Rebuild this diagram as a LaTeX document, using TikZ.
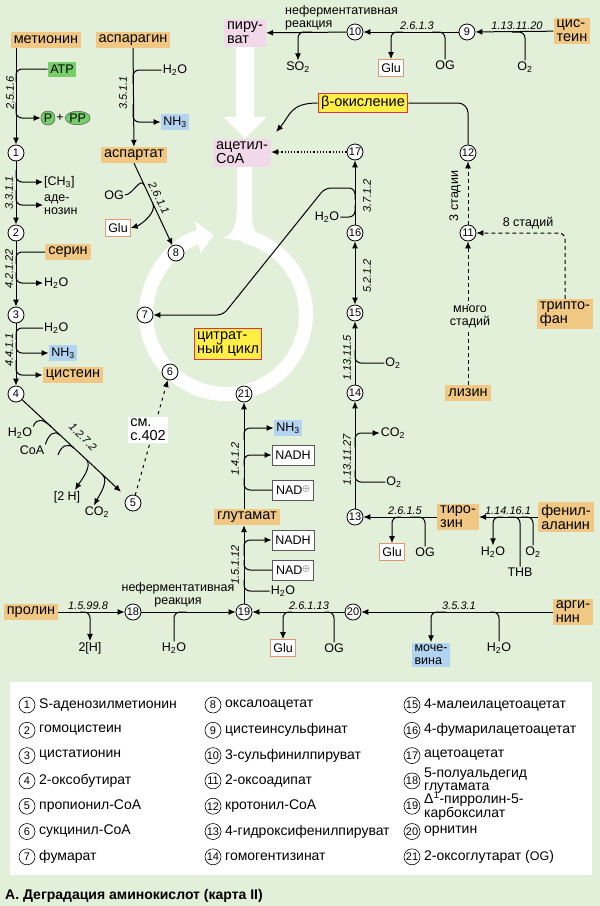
\documentclass[tikz,border=0pt]{standalone}
\usepackage{fontspec}
\setmainfont{Liberation Sans}
\usepackage{tikz}
\usetikzlibrary{arrows.meta,positioning,calc,shapes.geometric}
\definecolor{bgGreen}{RGB}{226,239,217}
\definecolor{aaTan}{RGB}{240,200,132}
\definecolor{pinkBox}{RGB}{241,217,233}
\definecolor{blueBox}{RGB}{178,212,240}
\definecolor{greenBox}{RGB}{118,206,104}
\definecolor{yelBox}{RGB}{255,238,70}
\definecolor{redEdge}{RGB}{222,50,70}
\definecolor{gluEdge}{RGB}{226,150,120}
\newcommand\labfont{\fontsize{14.5}{14}\selectfont}
\newcommand\chemfont{\fontsize{12.5}{13}\selectfont}
\newcommand\ecfont{\fontsize{11}{12}\selectfont\itshape}
\newcommand\numfont{\fontsize{11}{12}\selectfont}
\newcommand\legfont{\fontsize{14}{13}\selectfont}
\newcommand\water{H\textsubscript{2}O}
\newcommand\oxy{O\textsubscript{2}}
\newcommand\carbdiox{CO\textsubscript{2}}
\newcommand\ammon{NH\textsubscript{3}}
\newcommand\sulfdiox{SO\textsubscript{2}}
\newcommand\nadox{NAD\raisebox{3pt}{\scalebox{0.8}{$\oplus$}}}
\tikzset{
  aa/.style={rectangle, fill=aaTan, inner xsep=3pt, inner ysep=2.5pt, minimum height=16pt, align=left, font=\labfont},
  pinkbox/.style={rectangle, fill=pinkBox, inner sep=3pt, align=left, font=\labfont},
  bluebox/.style={rectangle, fill=blueBox, inner sep=2.5pt, minimum height=16pt, align=left, font=\chemfont},
  greenbox/.style={rectangle, fill=greenBox, inner sep=2.5pt, minimum height=15pt, font=\chemfont},
  glubox/.style={rectangle, draw=gluEdge, fill=white, line width=0.8pt, inner sep=2.5pt, minimum height=17pt, font=\chemfont},
  nadbox/.style={rectangle, draw=black!65, fill=white, line width=0.7pt, minimum width=40pt, minimum height=20pt, font=\chemfont},
  yelbox/.style={rectangle, draw=redEdge, fill=yelBox, line width=1pt, inner sep=3pt, align=left, font=\labfont},
  seebox/.style={rectangle, fill=white, inner sep=2.5pt, align=left, font=\labfont},
  num/.style={circle, draw, fill=white, line width=0.8pt, inner sep=0pt, minimum size=16pt, font=\numfont},
  chem/.style={inner sep=1pt, font=\chemfont},
  ec/.style={inner sep=1pt, font=\ecfont},
  legtext/.style={inner sep=1pt, anchor=west, align=left, font=\legfont},
  rxn/.style={-{Latex[length=7pt, width=6pt]}, line width=1pt},
  rxnboth/.style={{Latex[length=7pt, width=6pt]}-{Latex[length=7pt, width=6pt]}, line width=1pt},
  feed/.style={line width=1pt, rounded corners=6pt},
  yield/.style={feed, -{Latex[length=7pt, width=6pt]}},
  stagearr/.style={dashed, dash pattern=on 4pt off 3pt, line width=1pt, rounded corners=6pt, -{Latex[length=7pt, width=6pt]}},
  dotarr/.style={dotted, line width=1.2pt, -{Latex[length=7pt, width=6pt]}},
  flask/.style={draw=white}
}
\begin{document}
\begin{tikzpicture}[x=1pt, y=-1pt]
  \fill[bgGreen] (0,0) rectangle (600,906);
  \useasboundingbox (0,0) rectangle (600,906);
  \fill[white] (10,682) rectangle (592,875);

  % pyruvate, acetyl-CoA and the white flask
  \node[pinkbox] (pyr) at (245,33) {пиру-\\ват};
  \node[pinkbox] (acoa) at (242,153) {ацетил-\\CoA};
  \coordinate (neck) at (244,236);
  \draw[flask, line width=18pt, -{Triangle[length=22pt, width=42pt]}] (pyr.south) -- (pyr.south |- acoa.north);
  \draw[flask, line width=15pt] (neck |- acoa.south) -- (neck);
  \fill[white] (236.5,212) .. controls (236.5,228) and (232,233) .. (224,238) -- (266,245) .. controls (258,237) and (251.5,230) .. (251.5,212) -- cycle;
  \draw[flask, line width=14pt, -{Triangle[length=16pt, width=32pt]}] (neck) arc[start angle=77, end angle=-261, radius=80pt];
  \node[yelbox] (citr) at (228,344) {цитрат-\\ный цикл};

  % left column
  \node[aa] (met) at (46,40) {метионин};
  \node[greenbox] (atp) at (62,69) {ATP};
  \node[greenbox, circle, draw=black!75, inner sep=0.8pt, minimum size=12pt] (pP) at (48,118) {P};
  \node[chem, right=0pt of pP] (plus) {+};
  \node[greenbox, ellipse, draw=black!75, inner sep=0.5pt, minimum height=13pt, right=0pt of plus] (pPP) {PP};
  \node[num] (c1) at (16,153) {1};
  \node[chem, anchor=west] (ch3) at (43,182) {[CH\textsubscript{3}]};
  \node[chem, anchor=west, align=left] (ado) at (43,205) {аде-\\нозин};
  \node[num] (c2) at (16,233) {2};
  \node[aa] (ser) at (68,252) {серин};
  \node[chem, anchor=west] (h2oA) at (43,283) {\water};
  \node[num] (c3) at (16,315) {3};
  \node[chem, anchor=west] (h2oB) at (43,328) {\water};
  \node[bluebox] (nh3A) at (63,353) {\ammon};
  \node[aa] (cysA) at (73,375) {цистеин};
  \node[num] (c4) at (16,394) {4};
  \node[chem] (h2oC) at (20,433) {\water};
  \node[chem] (coa) at (32,450) {CoA};
  \node[chem] (h2H) at (67,497) {[2 H]};
  \node[chem] (co2A) at (97,512) {\carbdiox};
  \node[num] (c5) at (133,503) {5};

  % aspartate and the cycle
  \node[aa] (asn) at (133,40) {аспарагин};
  \node[chem] (h2oD) at (175,70) {\water};
  \node[bluebox] (nh3B) at (175,122) {\ammon};
  \node[aa] (asp) at (134,155) {аспартат};
  \node[chem] (og1) at (114,195) {OG};
  \node[glubox] (glu1) at (118,228) {Glu};
  \node[num] (c8) at (176,253) {8};
  \node[num] (c7) at (145,315) {7};
  \node[num] (c6) at (170,372) {6};
  \node[num] (c21) at (244,394) {21};

  % top row
  \node[num] (c10) at (355,32) {10};
  \node[chem, anchor=west, align=left] (nonenzA) at (284,18) {неферментативная\\реакция};
  \node[chem] (so2) at (298,67) {\sulfdiox};
  \node[glubox] (glu2) at (391,68) {Glu};
  \node[num] (c9) at (467,32) {9};
  \node[chem] (og2) at (445,65) {OG};
  \node[chem] (o2A) at (525,67) {\oxy};
  \node[aa] (cysB) at (572,31) {цис-\\теин};
  \node[yelbox] (beta) at (363,103) {β-окисление};

  % right columns
  \node[num] (c17) at (355,152) {17};
  \node[num] (c12) at (468,153) {12};
  \node[num] (c16) at (355,233) {16};
  \node[chem] (h2oE) at (327,217) {\water};
  \node[num] (c11) at (468,233) {11};
  \node[num] (c15) at (355,313) {15};
  \node[aa] (trp) at (565,314) {трипто-\\фан};
  \node[num] (c14) at (355,393) {14};
  \node[chem] (o2B) at (393,363) {\oxy};
  \node[aa] (lys) at (468,393) {лизин};
  \node[chem] (co2B) at (393,433) {\carbdiox};
  \node[chem] (o2C) at (394,482) {\oxy};
  \node[num] (c13) at (355,517) {13};
  \node[glubox] (glu3) at (392,552) {Glu};
  \node[chem] (og3) at (425,552) {OG};
  \node[aa] (tyr) at (458,517) {тиро-\\зин};
  \node[chem] (h2oG) at (493,552) {\water};
  \node[chem] (o2D) at (533,552) {\oxy};
  \node[chem] (thb) at (520,572) {THB};
  \node[aa] (phe) at (566,517) {фенил-\\аланин};

  % glutamate column
  \node[bluebox] (nh3C) at (288,428) {\ammon};
  \node[nadbox] (nadhA) at (293,455) {NADH};
  \node[nadbox] (nadA) at (293,490) {\nadox};
  \node[aa] (glut) at (247,517) {глутамат};
  \node[nadbox] (nadhB) at (293,540) {NADH};
  \node[nadbox] (nadB) at (293,570) {\nadox};
  \node[chem] (h2oF) at (283,591) {\water};

  % bottom row
  \node[aa] (pro) at (31,612) {пролин};
  \node[num] (c18) at (133,612) {18};
  \node[chem] (h2HB) at (90,648) {2[H]};
  \node[chem, align=center] (nonenzB) at (178,595) {неферментативная\\реакция};
  \node[chem] (h2oH) at (174,648) {\water};
  \node[num] (c19) at (244,612) {19};
  \node[glubox] (glu4) at (283,648) {Glu};
  \node[chem] (og4) at (334,648) {OG};
  \node[num] (c20) at (353,612) {20};
  \node[bluebox] (urea) at (431,655) {моче-\\вина};
  \node[chem] (h2oI) at (499,648) {\water};
  \node[aa] (arg) at (573,612) {арги-\\нин};

  % enzyme numbers
  \node[ec, rotate=90] (e1) at (10,93) {2.5.1.6};
  \node[ec, rotate=90] (e2) at (123,93) {3.5.1.1};
  \node[ec, rotate=90] (e3) at (9,193) {3.3.1.1};
  \node[ec, rotate=90] (e4) at (9,269) {4.2.1.22};
  \node[ec, rotate=90] (e5) at (9,350) {4.4.1.1};
  \node[ec, rotate=-45] (e6) at (83,437) {1.2.7.2};
  \node[ec, rotate=-63] (e7) at (159,198) {2.6.1.1};
  \node[ec, anchor=south] (e8) at (88,611) {1.5.99.8};
  \node[ec, anchor=south] (e9) at (417,31) {2.6.1.3};
  \node[ec, anchor=south] (e10) at (517,31) {1.13.11.20};
  \node[ec, rotate=90] (e11) at (367,196) {3.7.1.2};
  \node[ec, rotate=90] (e12) at (367,276) {5.2.1.2};
  \node[ec, rotate=90] (e13) at (347,358) {1.13.11.5};
  \node[ec, rotate=90] (e14) at (347,460) {1.13.11.27};
  \node[ec, anchor=south] (e15) at (405,516) {2.6.1.5};
  \node[ec, anchor=south] (e16) at (508,516) {1.14.16.1};
  \node[ec, anchor=south] (e17) at (309,611) {2.6.1.13};
  \node[ec, anchor=south] (e18) at (459,611) {3.5.3.1};
  \node[ec, rotate=90] (e19) at (235,459) {1.4.1.2};
  \node[ec, rotate=90] (e20) at (235,565) {1.5.1.12};
  \node[chem, rotate=90] (st3) at (455,196) {3 стадии};
  \node[chem, anchor=south] (st8) at (528,230) {8 стадий};

  % junctions on the reaction lines
  \coordinate (jA) at (16,82);   \coordinate (jB) at (16,102);
  \coordinate (jC) at (16,170);  \coordinate (jD) at (16,190);
  \coordinate (jE) at (16,264);  \coordinate (jF) at (16,272);
  \coordinate (jG) at (16,340);  \coordinate (jH) at (16,342);
  \coordinate (jI) at (16,360);
  \coordinate (jJ) at (133,84);  \coordinate (jK) at (133,104);
  \coordinate (jL) at (512,32);  \coordinate (jM) at (432,32);
  \coordinate (jN) at (403,32);  \coordinate (jO) at (312,32);
  \coordinate (jP) at (355,205); \coordinate (jQ) at (355,200);
  \coordinate (bendA) at (325,188); \coordinate (bendB) at (223,315);
  \coordinate (jR) at (355,350); \coordinate (jS) at (355,447);
  \coordinate (jT) at (355,470);
  \coordinate (jU) at (401,517); \coordinate (jV) at (410,517);
  \coordinate (jW) at (503,517); \coordinate (jX) at (508,517);
  \coordinate (jY) at (521,517);
  \coordinate (jZa) at (244,556); \coordinate (jZb) at (244,560);
  \coordinate (jZc) at (244,580); \coordinate (jZd) at (244,478);
  \coordinate (jZe) at (244,466); \coordinate (jZf) at (244,440);
  \coordinate (jBa) at (80,612);  \coordinate (jBb) at (186,612);
  \coordinate (jBc) at (292,612); \coordinate (jBd) at (325,612);
  \coordinate (jBe) at (446,612); \coordinate (jBf) at (490,612);
  \coordinate (dA) at ($(c4)!.30!(c5)$); \coordinate (dB) at ($(c4)!.38!(c5)$);
  \coordinate (dC) at ($(c4)!.50!(c5)$); \coordinate (dD) at ($(c4)!.60!(c5)$);
  \coordinate (dE) at ($(c4)!.74!(c5)$);
  \coordinate (dF) at ($(asp.south)!.25!(c8)$); \coordinate (dG) at ($(asp.south)!.45!(c8)$);
  \coordinate (fx) at (58,455);

  % methionine to 2-oxobutyrate
  \draw[rxn] (c1 |- met.south) -- (c1);
  \draw[feed] (atp.west) -| (jA);
  \draw[yield] (jB) |- (pP.west);
  \draw[rxn] (c1) -- (c2);
  \draw[yield] (jC) |- (ch3.west);
  \draw[yield] (jD) |- (ado.west);
  \draw[rxn] (c2) -- (c3);
  \draw[feed] (ser.west) -| (jE);
  \draw[yield] (jF) |- (h2oA.west);
  \draw[rxn] (c3) -- (c4);
  \draw[feed] (h2oB.west) -| (jG);
  \draw[yield] (jH) |- (nh3A.west);
  \draw[yield] (jI) |- (cysA.west);
  \draw[rxn, shorten >=8pt] (c4) -- (c5);
  \draw[feed] (h2oC.north east) .. controls +(4,-10) and +(-7,-6.5) .. (dA);
  \draw[feed] (coa.north east) .. controls +(3,-9) and +(-7,-6.5) .. (dB);
  \draw[feed] (fx) .. controls +(3,-9) and +(-7,-6.5) .. (dC);
  \draw[yield] (dD) .. controls +(7,6.5) and +(5,-8) .. ([xshift=8pt]h2H.north);
  \draw[yield] (dE) .. controls +(7,6.5) and +(4,-8) .. ([xshift=-3pt]co2A.north);
  \draw[stagearr, dash pattern=on 3pt off 4pt] (c5) -- (c6);

  % asparagine and aspartate
  \draw[rxn] (asn) -- (asp);
  \draw[feed] (h2oD.west) -| (jJ);
  \draw[yield] (jK) |- (nh3B.west);
  \draw[rxn] (asp.south) -- (c8);
  \draw[feed] (og1.east) .. controls +(8,0) and +(-4,-10) .. (dF);
  \draw[yield] (dG) .. controls +(4,9) and +(10,-3) .. (glu1.east);

  % cysteine to pyruvate
  \draw[rxn] (cysB) -- (c9);
  \draw[feed] (o2A.north) |- (jL);
  \draw[rxn] (c9) -- (c10);
  \draw[feed] (og2.north) |- (jM);
  \draw[yield] (jN) -| (glu2.north);
  \draw[rxn] (c10) -- (pyr);
  \draw[yield] (jO) -| (so2.north);
  \draw[yield] (beta.west) .. controls +(-28,0) and +(14,-16) .. ([shift={(5,-7)}]acoa.north east);
  \draw[feed, rounded corners=10pt] (c12) |- (beta.east);
  \draw[dotarr] (c17) -- (c17 -| acoa.east);

  % tyrosine to acetoacetate
  \draw[rxn] (phe) -- (tyr);
  \draw[yield] (jW) -| (h2oG.north);
  \draw[feed] (thb.north) |- (jX);
  \draw[feed] (o2D.north) |- (jY);
  \draw[rxn] (tyr) -- (c13);
  \draw[yield] (jU) -| (glu3.north);
  \draw[feed] (og3.north) |- (jV);
  \draw[rxn] (c13) -- (c14);
  \draw[yield] (jS) |- (co2B.west);
  \draw[feed] (o2C.west) -| (jT);
  \draw[rxn] (c14) -- (c15);
  \draw[feed] (o2B.west) -| (jR);
  \draw[rxnboth] (c15) -- (c16);
  \draw[rxn] (c16) -- (c17);
  \draw[feed] (h2oE.east) -| (jP);
  \draw[yield] (jQ) |- (bendA) -- (bendB) -- (c7);

  % lysine and tryptophan
  \draw[stagearr] (lys) -- (c11);
  \draw[stagearr] (trp.north) |- (c11);
  \draw[stagearr] (c11) -- (c12);

  % proline and arginine to glutamate
  \draw[rxn] (pro) -- (c18);
  \draw[yield] (jBa) -| (h2HB.north);
  \draw[rxn] (c18) -- (c19);
  \draw[feed] (h2oH.north) |- (jBb);
  \draw[rxn] (arg) -- (c20);
  \draw[yield] (jBe) -| (urea.north);
  \draw[feed] (h2oI.north) |- (jBf);
  \draw[rxn] (c20) -- (c19);
  \draw[yield] (jBc) -| (glu4.north);
  \draw[feed] (og4.north) |- (jBd);
  \draw[rxn] (c19) -- (c19 |- glut.south);
  \draw[yield] (jZa) |- (nadhB.west);
  \draw[feed] (nadB.west) -| (jZb);
  \draw[feed] (h2oF.west) -| (jZc);
  \draw[rxn] (c21 |- glut.north) -- (c21);
  \draw[feed] (nadA.west) -| (jZd);
  \draw[yield] (jZe) |- (nadhA.west);
  \draw[yield] (jZf) |- (nh3C.west);

  % labels lying over dashed lines
  \node[seebox] (see) at (148,430) {см.\\с.402};
  \node[chem, fill=bgGreen, align=center] (many) at (470,317) {много\\стадий};

  % legend
  \foreach \n/\t [count=\i from 0] in {1/S-аденозилметионин, 2/гомоцистеин, 3/цистатионин, 4/2-оксобутират, 5/пропионил-CoA, 6/сукцинил-CoA, 7/фумарат}
    \node[num, line width=0.6pt] (lg\n) at (27,{705+25.3*\i}) {\n} node[legtext] (lt\n) at (38,{705+25.3*\i}) {\t};
  \foreach \n/\t [count=\i from 0] in {8/оксалоацетат, 9/цистеинсульфинат, 10/3-сульфинилпируват, 11/2-оксоадипат, 12/кротонил-CoA, 13/4-гидроксифенилпируват, 14/гомогентизинат}
    \node[num, line width=0.6pt] (lg\n) at (213,{705+25.3*\i}) {\n} node[legtext] (lt\n) at (224,{705+25.3*\i}) {\t};
  \foreach \n/\t [count=\i from 0] in {15/4-малеилацетоацетат, 16/4-фумарилацетоацетат, 17/ацетоацетат, 18/{5-полуальдегид\\глутамата}, 19/{Δ\textsuperscript{1}-пирролин-5-\\карбоксилат}, 20/орнитин, 21/{2-оксоглутарат ({\chemfont OG})}}
    \node[num, line width=0.6pt] (lg\n) at (412,{705+25.3*\i}) {\n} node[legtext] (lt\n) at (423,{705+25.3*\i}) {\t};
  \node[anchor=west, inner sep=1pt, font=\bfseries\legfont] (title) at (4,896) {А. Деградация аминокислот (карта II)};
\end{tikzpicture}
\end{document}
